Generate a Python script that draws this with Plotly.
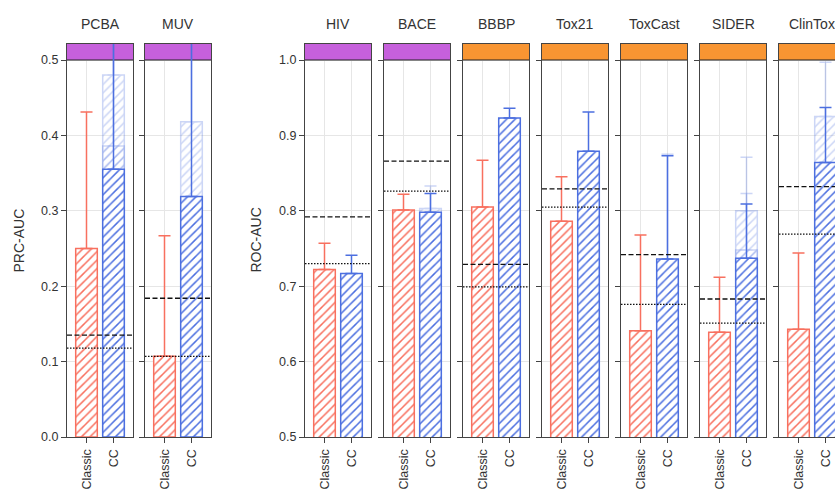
import plotly.graph_objects as go

# ---- data -------------------------------------------------------------
datasets = ["PCBA", "MUV", "HIV", "BACE", "BBBP", "Tox21", "ToxCast", "SIDER", "ClinTox"]
metric = ["PRC", "PRC", "ROC", "ROC", "ROC", "ROC", "ROC", "ROC", "ROC"]
task_group = ["A", "A", "A", "A", "B", "B", "B", "B", "B"]
methods = ["Classic", "CC"]

classic_mean = [0.250, 0.107, 0.722, 0.801, 0.805, 0.786, 0.641, 0.639, 0.643]
classic_upper = [0.431, 0.267, 0.757, 0.822, 0.867, 0.845, 0.768, 0.712, 0.744]

cc_mean = [0.355, 0.319, 0.717, 0.798, 0.923, 0.879, 0.736, 0.737, 0.864]
cc_upper = [0.570, 0.560, 0.741, 0.823, 0.936, 0.931, 0.873, 0.809, 0.937]

# additional CC runs (drawn faded behind the main CC bar)
cc_alt1_mean = [0.386, 0.418, None, 0.803, None, None, 0.735, 0.748, 0.925]
cc_alt1_upper = [0.580, 0.570, None, 0.833, None, None, 0.875, 0.823, 0.997]
cc_alt2_mean = [0.480, None, None, None, None, None, None, 0.800, None]
cc_alt2_upper = [0.600, None, None, None, None, None, None, 0.871, None]

baseline_dashed = [0.135, 0.184, 0.792, 0.866, 0.729, 0.829, 0.742, 0.683, 0.832]
baseline_dotted = [0.118, 0.107, 0.730, 0.826, 0.699, 0.805, 0.676, 0.651, 0.769]

metric_label = {"PRC": "PRC-AUC", "ROC": "ROC-AUC"}
metric_range = {"PRC": (0.0, 0.5), "ROC": (0.5, 1.0)}
group_color = {"A": "#c660dc", "B": "#f89532"}

# ---- styling / layout --------------------------------------------------
W, H = 835, 491
RED = "#f8705f"
BLUE = "#4c6fe0"
FONT = "Liberation Sans, Arial, sans-serif"
TEXT = "#333333"

panel_left = [67, 145, 305, 384, 463, 542, 621, 700, 779]
panel_w = 66
unit_px = 27.0
plot_top, plot_bottom, header_px = 44, 437, 16

fig = go.Figure()
layout = dict(
    width=W, height=H, margin=dict(l=0, r=0, t=0, b=0, autoexpand=False),
    paper_bgcolor="white", plot_bgcolor="white",
    barmode="overlay", showlegend=False,
    font=dict(family=FONT, color=TEXT, size=12),
)
shapes, annotations = [], []

y_dom = [(H - plot_bottom) / H, (H - plot_top) / H]
half = panel_w / unit_px / 2
first_in_group = {}

for i, name in enumerate(datasets):
    k = i + 1
    xs = "x" if k == 1 else f"x{k}"
    ys = "y" if k == 1 else f"y{k}"
    x0px = panel_left[i]
    x1px = min(x0px + panel_w, W)
    xr0 = 0.5 - half
    xr1 = xr0 + (x1px - x0px) / unit_px
    lo, hi = metric_range[metric[i]]
    top = hi + header_px * (hi - lo) / (plot_bottom - plot_top - header_px)
    show_labels = metric[i] not in first_in_group
    first_in_group.setdefault(metric[i], i)
    clipped = x1px < x0px + panel_w

    layout[f"xaxis{k}"] = dict(
        domain=[x0px / W, x1px / W], anchor=ys, range=[xr0, xr1],
        tickvals=[0, 1], ticktext=methods, tickangle=-90,
        showgrid=True, gridcolor="#e6e6e6", gridwidth=1,
        showline=True, linecolor="#444444", linewidth=1.3, mirror=True,
        ticks="outside", ticklen=5, tickcolor="#444444", ticklabelstandoff=1,
        tickfont=dict(size=12.5, color=TEXT), zeroline=False, fixedrange=True,
        automargin=False,
    )
    layout[f"yaxis{k}"] = dict(
        domain=y_dom, anchor=xs, range=[lo, top],
        tickvals=[round(lo + 0.1 * j, 1) for j in range(6)], tickformat=".1f",
        showticklabels=show_labels,
        showgrid=True, gridcolor="#e6e6e6", gridwidth=1,
        showline=True, linecolor="#444444", linewidth=1.3,
        mirror=not clipped,
        ticks="outside", ticklen=5, tickcolor="#444444",
        tickfont=dict(size=12.5, color=TEXT), zeroline=False, fixedrange=True,
        automargin=False,
    )

    # coloured header strip above the metric's maximum (a wide bar, so
    # error bars that run past the top are still drawn over it)
    fig.add_trace(go.Bar(
        x=[0.5], y=[(top - hi) * 2], base=[hi], width=[(xr1 - xr0) + 2],
        marker=dict(color=group_color[task_group[i]],
                    line=dict(color="#222222", width=1.2)),
        xaxis=xs, yaxis=ys, hoverinfo="skip",
    ))

    def add_bar(x, mean, upper, color, opacity):
        if mean is None:
            return
        fig.add_trace(go.Bar(
            x=[x], y=[mean], base=[0], width=0.8, xaxis=xs, yaxis=ys, opacity=opacity,
            marker=dict(
                color="white",
                line=dict(color=color, width=1.5),
                pattern=dict(shape="/", fgcolor=color, bgcolor="white",
                             size=6, solidity=0.25, fillmode="replace"),
            ),
            error_y=dict(type="data", symmetric=False,
                         array=[upper - mean], arrayminus=[0],
                         color=color, thickness=1.5, width=6),
            hoverinfo="skip",
        ))

    add_bar(0, classic_mean[i], classic_upper[i], RED, 1.0)
    add_bar(1, cc_alt2_mean[i], cc_alt2_upper[i], BLUE, 0.28)
    add_bar(1, cc_alt1_mean[i], cc_alt1_upper[i], BLUE, 0.28)
    add_bar(1, cc_mean[i], cc_upper[i], BLUE, 1.0)

    # reference baselines
    for val, dash in ((baseline_dashed[i], "5px,2.5px"), (baseline_dotted[i], "1.5px,1.5px")):
        shapes.append(dict(
            type="line", xref="paper", yref=ys,
            x0=x0px / W, x1=x1px / W, y0=val, y1=val,
            line=dict(color="#111111", width=1.3, dash=dash), layer="above",
        ))

    # panel title
    annotations.append(dict(
        text=name, xref="paper", yref="paper",
        x=(x0px + panel_w / 2) / W, y=(H - 24) / H,
        xanchor="center", yanchor="middle", showarrow=False,
        font=dict(size=14, color=TEXT),
    ))

# y-axis titles
for m, xpx in (("PRC", 19), ("ROC", 256)):
    annotations.append(dict(
        text=metric_label[m], xref="paper", yref="paper",
        x=xpx / W, y=(H - (plot_top + plot_bottom) / 2) / H,
        xanchor="center", yanchor="middle", textangle=-90, showarrow=False,
        font=dict(size=14, color=TEXT),
    ))

layout["shapes"] = shapes
layout["annotations"] = annotations
fig.update_layout(**layout)
fig.write_html("out.html")
